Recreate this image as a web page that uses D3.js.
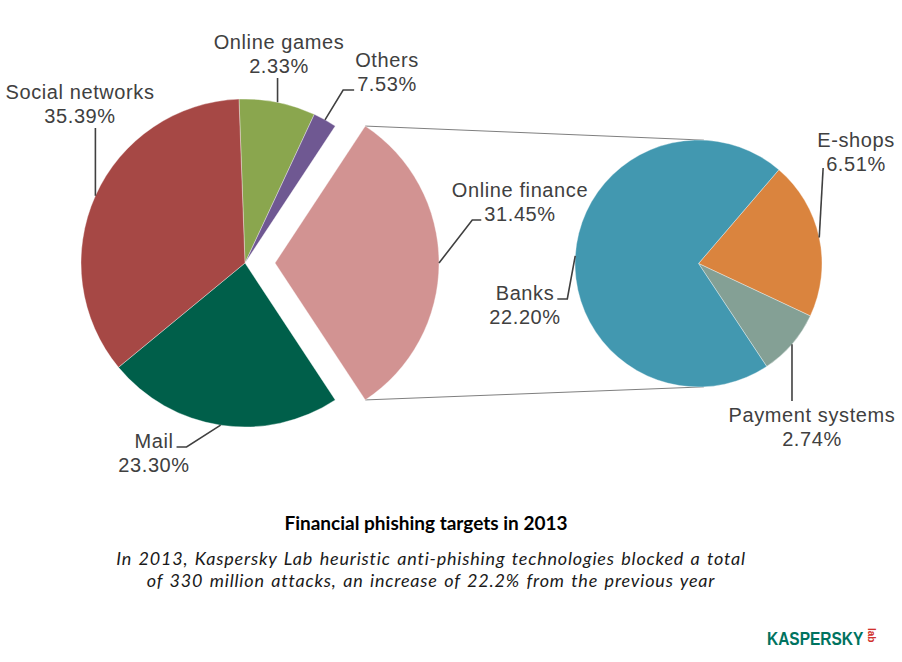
<!DOCTYPE html>
<html>
<head>
<meta charset="utf-8">
<script src="https://cdn.jsdelivr.net/npm/d3@7"></script>
<style>
  body { margin: 0; background: #fff; }
</style>
</head>
<body>
<div id="chart"></div>
<script>
// main pie, in clockwise order from the top
const mainCats = ["Online games", "Others", "Online finance", "Mail", "Social networks"];
const mainVals = [7.53, 2.33, 31.45, 23.30, 35.39]; // slice sizes as drawn
// percentages as printed (the source prints the two small ones swapped)
const mainPrinted = ["2.33%", "7.53%", "31.45%", "23.30%", "35.39%"];
const mainColors = ["#8aa64e", "#6f5892", "#d29392", "#005f4a", "#a64845"];

// breakdown of "Online finance"
const subCats = ["E-shops", "Payment systems", "Banks"];
const subVals = [6.51, 2.74, 22.20];
const subColors = ["#da843e", "#84a095", "#4298b0"];

const title = "Financial phishing targets in 2013";
const subtitle = [
  "In 2013, Kaspersky Lab heuristic anti-phishing technologies blocked a total",
  "of 330 million attacks, an increase of 22.2% from the previous year"
];

const width = 902, height = 662;
const rad = Math.PI / 180;

// layout
const main = {cx: 245, cy: 263, r: 164, explode: 30};
const sub = {cx: 698.5, cy: 263.5, r: 123.5, start: 40.6};
const exploded = "Online finance";

// label anchors: x = centre, y = first baseline
const labelPos = {
  "Online games":    {x: 279, y: 49,  leader: "below"},
  "Others":          {x: 387, y: 67,  leader: "left2", stub: 11},
  "Online finance":  {x: 520, y: 197, leader: "left2", stub: 9},
  "Mail":            {x: 154, y: 448, leader: "right1", stub: 10},
  "Social networks": {x: 80,  y: 99,  leader: "below"},
  "E-shops":         {x: 856, y: 147, leader: "left2", stub: 0},
  "Payment systems": {x: 812, y: 422, leader: "above"},
  "Banks":           {x: 525, y: 300, leader: "right1", stub: 10}
};

const svg = d3.select("#chart").append("svg")
  .attr("width", width)
  .attr("height", height)
  .attr("viewBox", [0, 0, width, height]);

// start angle so that the exploded slice is centred on the right (90deg)
const iEx = mainCats.indexOf(exploded);
const total = d3.sum(mainVals);
const before = d3.sum(mainVals.slice(0, iEx));
const mainStart = (Math.PI / 2) - (mainVals[iEx] / total) * Math.PI - (before / total) * 2 * Math.PI;

const mainPie = d3.pie().sort(null).startAngle(mainStart).endAngle(mainStart + 2 * Math.PI);
const subPie = d3.pie().sort(null).startAngle(sub.start * rad).endAngle(sub.start * rad + 2 * Math.PI);

const mainArcs = mainPie(mainVals).map((d, i) => ({...d, cat: mainCats[i], color: mainColors[i], text: mainPrinted[i]}));
const subArcs = subPie(subVals).map((d, i) => ({...d, cat: subCats[i], color: subColors[i], text: d3.format(".2f")(subVals[i]) + "%"}));

const mainArc = d3.arc().innerRadius(0).outerRadius(main.r);
const subArc = d3.arc().innerRadius(0).outerRadius(sub.r);

function offsetOf(d) {
  if (d.cat !== exploded) return [0, 0];
  const m = (d.startAngle + d.endAngle) / 2;
  return [main.explode * Math.sin(m), -main.explode * Math.cos(m)];
}
function edgePoint(cx, cy, r, a) {
  return [cx + r * Math.sin(a), cy - r * Math.cos(a)];
}

// connector lines between the exploded slice and the secondary pie
const exArc = mainArcs[iEx];
const [ox, oy] = offsetOf(exArc);
const connectors = [
  [edgePoint(main.cx + ox, main.cy + oy, main.r, exArc.startAngle), edgePoint(sub.cx, sub.cy, sub.r, 2.5 * rad)],
  [edgePoint(main.cx + ox, main.cy + oy, main.r, exArc.endAngle), edgePoint(sub.cx, sub.cy, sub.r, 177.5 * rad)]
];
svg.append("g")
  .attr("stroke", "#7f7f7f")
  .attr("stroke-width", 1)
  .selectAll("line")
  .data(connectors)
  .join("line")
  .attr("x1", d => d[0][0]).attr("y1", d => d[0][1])
  .attr("x2", d => d[1][0]).attr("y2", d => d[1][1]);

// slices
svg.append("g")
  .attr("transform", `translate(${main.cx},${main.cy})`)
  .selectAll("path")
  .data(mainArcs)
  .join("path")
  .attr("transform", d => `translate(${offsetOf(d)})`)
  .attr("d", mainArc)
  .attr("fill", d => d.color)
  .attr("stroke", "#fff")
  .attr("stroke-opacity", 0.45)
  .attr("stroke-width", 0.8);

svg.append("g")
  .attr("transform", `translate(${sub.cx},${sub.cy})`)
  .selectAll("path")
  .data(subArcs)
  .join("path")
  .attr("d", subArc)
  .attr("fill", d => d.color)
  .attr("stroke", "#fff")
  .attr("stroke-opacity", 0.45)
  .attr("stroke-width", 0.8);

// data labels + leader lines
const labels = svg.append("g")
  .attr("font-family", "'Liberation Sans', Arial, sans-serif")
  .attr("font-size", 20)
  .attr("letter-spacing", 0.6)
  .attr("fill", "#404040");
const leaders = svg.append("g")
  .attr("fill", "none")
  .attr("stroke", "#404040")
  .attr("stroke-width", 1.6);

function drawLabel(d, cx, cy, r) {
  const p = labelPos[d.cat];
  const t = labels.append("text").attr("text-anchor", "middle");
  const l1 = t.append("tspan").attr("x", p.x).attr("y", p.y).text(d.cat);
  const l2 = t.append("tspan").attr("x", p.x).attr("y", p.y + 24).text(d.text);
  const [dx, dy] = offsetOf(d);
  const mid = (d.startAngle + d.endAngle) / 2;
  const e = edgePoint(cx + dx, cy + dy, r, mid);
  let pts;
  if (p.leader === "below") {
    pts = [e, [e[0], p.y + 29]];
  } else if (p.leader === "above") {
    pts = [e, [e[0], p.y - 21]];
  } else if (p.leader === "left2") {
    const left = p.x - l2.node().getComputedTextLength() / 2 - 3;
    const y = p.y + 24 - (p.stub ? 1 : 3);
    pts = [e, [left - p.stub, y], [left, y]];
  } else {
    const right = p.x + l1.node().getComputedTextLength() / 2 + 3;
    const y = p.y - 1;
    pts = [e, [right + p.stub, y], [right, y]];
  }
  leaders.append("path").attr("d", d3.line()(pts));
}
mainArcs.forEach(d => drawLabel(d, main.cx, main.cy, main.r));
subArcs.forEach(d => drawLabel(d, sub.cx, sub.cy, sub.r));

// title and caption
svg.append("text")
  .attr("x", 426)
  .attr("y", 530)
  .attr("text-anchor", "middle")
  .attr("font-family", "Lato, 'Open Sans', sans-serif")
  .attr("font-weight", "bold")
  .attr("font-size", 19)
  .attr("fill", "#000")
  .text(title);

svg.append("g")
  .attr("font-family", "Lato, 'Open Sans', sans-serif")
  .attr("font-style", "italic")
  .attr("font-size", 18)
  .attr("letter-spacing", 0.8)
  .attr("word-spacing", 1.5)
  .attr("fill", "#1a1a1a")
  .selectAll("text")
  .data(subtitle)
  .join("text")
  .attr("x", 431)
  .attr("y", (d, i) => 565 + i * 21.8)
  .attr("text-anchor", "middle")
  .text(d => d);

// logo
const logo = svg.append("g");
logo.append("text")
  .attr("transform", "translate(767,645) scale(0.86,1)")
  .attr("font-family", "'Liberation Sans', Arial, sans-serif")
  .attr("font-weight", "bold")
  .attr("font-size", 18)
  .attr("fill", "#00735f")
  .text("KASPERSKY");
logo.append("text")
  .attr("transform", "translate(868,628) rotate(90)")
  .attr("font-family", "'Liberation Sans', Arial, sans-serif")
  .attr("font-weight", "bold")
  .attr("font-size", 10)
  .attr("fill", "#d0312d")
  .text("lab");
</script>
</body>
</html>
